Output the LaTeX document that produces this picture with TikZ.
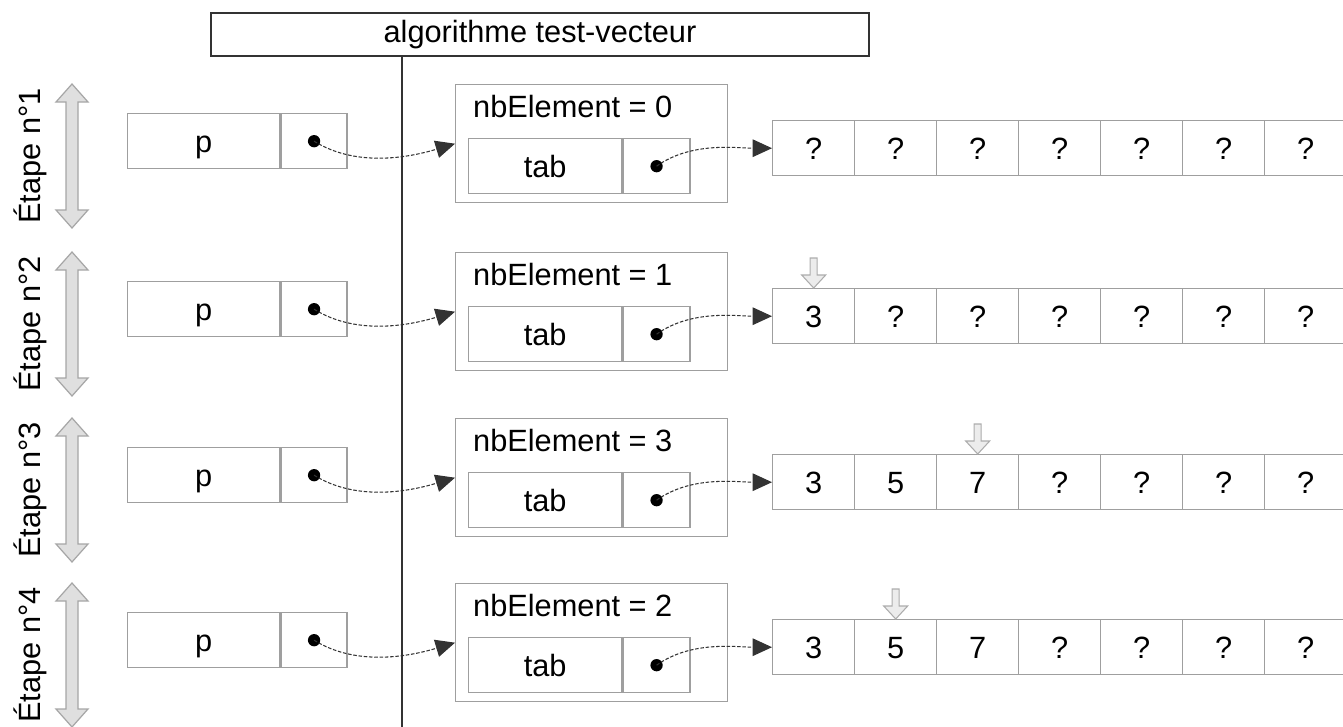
\documentclass[tikz,border=0pt]{standalone}
\usepackage{fontspec}
\setmainfont{Liberation Sans}
\usepackage{tikz}
\usetikzlibrary{arrows.meta, positioning}

\tikzset{
    texte/.style={font=\fontsize{17.5}{20}\selectfont},
    cellbox/.style={texte, draw=gray!75, line width=0.8pt, minimum height=1.1cm, inner sep=0pt,
                    text height=12.5pt, text depth=0pt},
    pointeur/.style={-{Triangle[length=11pt, width=10pt]}, gray!40!black, line width=0.6pt, dash pattern=on 2pt off 1pt},
    etapefleche/.pic={
        \draw[draw=gray!70, fill=gray!25, line width=0.7pt]
            (0,-72) -- (16,-54) -- (6,-54) -- (6,54) -- (16,54) -- (0,72)
            -- (-16,54) -- (-6,54) -- (-6,-54) -- (-16,-54) -- cycle;
    },
    indice/.pic={
        \draw[draw=gray!65, fill=gray!15, line width=0.6pt]
            (0,0) -- (-12,-13) -- (-3.5,-13) -- (-3.5,-30) -- (3.5,-30) -- (3.5,-13) -- (12,-13) -- cycle;
    }
}

\begin{document}
\begin{tikzpicture}[x=0.02cm, y=-0.02cm]
    \useasboundingbox (0,0) rectangle (1343,727);

    % titre et ligne verticale
    \node[texte, draw=black!80, line width=1.2pt, minimum width=13.16cm, minimum height=0.86cm,
          inner sep=0pt, anchor=north west] (titre) at (210,12) {algorithme test-vecteur};
    \coordinate (bas) at (402,727);
    \draw[gray!40!black, line width=0.8pt] (titre.south -| bas) -- (bas);

    % les quatre etapes
    \foreach \i/\d/\n/\vals/\k in {1/0/0/{?,?,?,?,?,?,?}/0,
                                   2/168/1/{3,?,?,?,?,?,?}/1,
                                   3/334/3/{3,5,7,?,?,?,?}/3,
                                   4/499/2/{3,5,7,?,?,?,?}/2} {
        % etiquette
        \node[texte, rotate=90] (e\i) at (30,156+\d) {Étape n°\i};
        \pic at (72,156+\d) {etapefleche};

        % variable p
        \node[cellbox, minimum width=3.04cm, anchor=north west] (p\i) at (127,113+\d) {p};
        \node[cellbox, minimum width=1.32cm, right=0pt of p\i] (pp\i) {};

        % structure
        \node[draw=gray!75, line width=0.8pt, minimum width=5.44cm, minimum height=2.36cm,
              inner sep=0pt, anchor=north west] (s\i) at (455,84+\d) {};
        \node[texte, anchor=west] (nb\i) at (467,107+\d) {nbElement = \n};
        \node[cellbox, minimum width=3.06cm, anchor=north west] (tab\i) at (468,138+\d) {tab};
        \node[cellbox, minimum width=1.34cm, right=0pt of tab\i] (tp\i) {};

        % tableau
        \foreach \v [count=\j] in \vals {
            \node[cellbox, minimum width=1.64cm, anchor=north west] (a\i-\j)
                at ({772+82*(\j-1)},120+\d) {\v};
        }
        \ifnum\k>0
            \pic at (a\i-\k.north) {indice};
        \fi

        % pointeurs
        \fill (pp\i.center) circle (3.5pt);
        \draw[pointeur] (pp\i.center) .. controls +(45,28) and +(-40,12) .. (s\i.west);
        \fill (tp\i.center) circle (3.5pt);
        \draw[pointeur] (tp\i.center) .. controls +(35,-25) and +(-35,0) .. (a\i-1.west);
    }
\end{tikzpicture}
\end{document}
